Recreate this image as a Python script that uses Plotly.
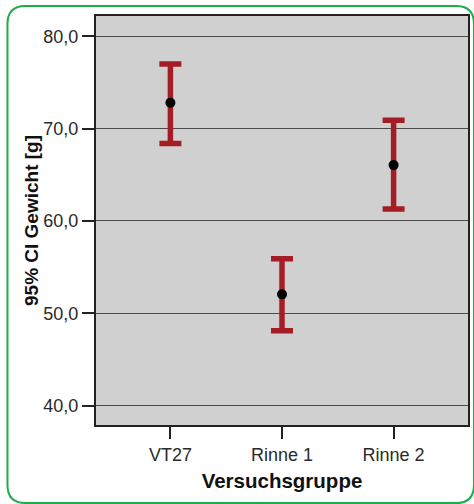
import plotly.graph_objects as go

groups = ["VT27", "Rinne 1", "Rinne 2"]
means = [72.8, 52.05, 66.05]
upper = [77.0, 55.9, 70.9]
lower = [68.4, 48.1, 61.3]

y_tick_vals = [40, 50, 60, 70, 80]
y_tick_text = ["40,0", "50,0", "60,0", "70,0", "80,0"]

W, H = 474, 504
ML, MR, MT, MB = 96, 4, 16, 79
PW, PH = W - ML - MR, H - MT - MB

def px(x):
    return (x - ML) / PW

def py(y):
    return (H - MB - y) / PH

# rounded green frame (pixel geometry -> paper coords)
x0, x1, y0, y1, r = 7, 476, 6, 503, 18
path = (
    f"M {px(x0 + r)},{py(y0)} L {px(x1 - r)},{py(y0)} "
    f"Q {px(x1)},{py(y0)} {px(x1)},{py(y0 + r)} "
    f"L {px(x1)},{py(y1 - r)} Q {px(x1)},{py(y1)} {px(x1 - r)},{py(y1)} "
    f"L {px(x0 + r)},{py(y1)} Q {px(x0)},{py(y1)} {px(x0)},{py(y1 - r)} "
    f"L {px(x0)},{py(y0 + r)} Q {px(x0)},{py(y0)} {px(x0 + r)},{py(y0)} Z"
)

err_plus = [u - m for u, m in zip(upper, means)]
err_minus = [m - l for m, l in zip(means, lower)]

fig = go.Figure()
fig.add_trace(go.Scatter(
    x=[0, 1, 2], y=means, mode="markers",
    marker=dict(color="black", size=10),
    error_y=dict(type="data", array=err_plus, arrayminus=err_minus,
                 color="#A51D24", thickness=5.5, width=11),
    showlegend=False,
))

font_family = "Liberation Sans, Arial, sans-serif"
fig.update_layout(
    width=W, height=H,
    margin=dict(l=ML, r=MR, t=MT, b=MB),
    paper_bgcolor="white",
    plot_bgcolor="#D0D0D0",
    font=dict(family=font_family, size=18, color="#2a2a2a"),
    separators=",.",
    xaxis=dict(
        range=[-2 / 3, 8 / 3],
        tickmode="array", tickvals=[0, 1, 2], ticktext=groups,
        ticks="outside", ticklen=12, tickwidth=2, tickcolor="#222",
        showgrid=False, zeroline=False,
        showline=True, linecolor="#222", linewidth=2, mirror=True,
        title=dict(text="<b>Versuchsgruppe</b>", font=dict(size=20.5, color="#111"), standoff=10),
    ),
    yaxis=dict(
        range=[37.9, 82.2],
        tickmode="array", tickvals=y_tick_vals, ticktext=y_tick_text,
        ticks="outside", ticklen=12, tickwidth=2, tickcolor="#222",
        showgrid=True, gridcolor="#4a4a4a", gridwidth=1.2, zeroline=False,
        showline=True, linecolor="#222", linewidth=2, mirror=True,
        title=dict(text="<b>95% CI Gewicht [g]</b>", font=dict(size=19, color="#111"), standoff=0),
    ),
    shapes=[dict(type="path", xref="paper", yref="paper", path=path,
                 line=dict(color="#1BAE4B", width=2), fillcolor="rgba(0,0,0,0)", layer="below")],
)

fig.write_html("out.html", config={"displayModeBar": False},
               post_script="document.body.style.margin='0';")
